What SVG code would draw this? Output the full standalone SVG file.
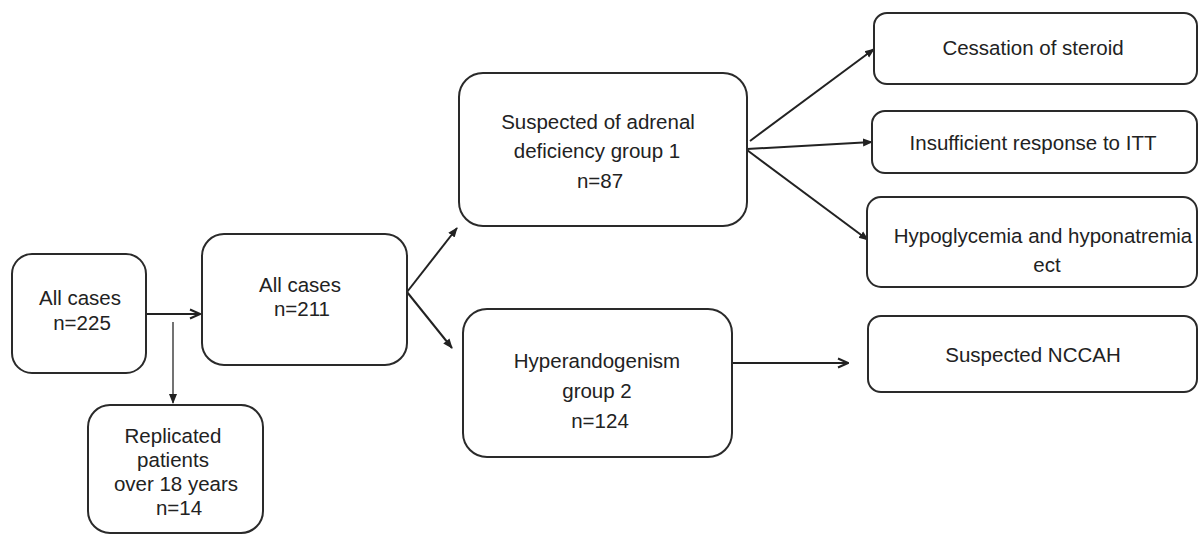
<svg xmlns="http://www.w3.org/2000/svg" width="1199" height="535" viewBox="0 0 1199 535">
<style>
.box{fill:#fff;stroke:#2a2a2a;stroke-width:2}
.t{font-family:"Liberation Sans",Arial,sans-serif;font-size:20.5px;fill:#222;text-anchor:middle}
.c{fill:none;stroke:#222;stroke-width:2}
.cg{fill:none;stroke:#444;stroke-width:1.5}
</style>
<defs>
<marker id="fill" viewBox="0 0 10 10" refX="9" refY="5" markerWidth="10" markerHeight="10" markerUnits="userSpaceOnUse" orient="auto">
<path d="M0,1 L10,5 L0,9 Z" fill="#222"/>
</marker>
<marker id="open" viewBox="0 0 12 12" refX="11" refY="6" markerWidth="12" markerHeight="12" markerUnits="userSpaceOnUse" orient="auto">
<path d="M1,1.5 L11,6 L1,10.5" fill="none" stroke="#222" stroke-width="2"/>
</marker>
</defs>
<g id="connectors">
<line class="c" x1="146" y1="314" x2="200" y2="314" marker-end="url(#open)"/>
<line class="cg" x1="173" y1="322" x2="173" y2="403" marker-end="url(#fill)"/>
<line class="c" x1="407" y1="292" x2="457" y2="228" marker-end="url(#fill)"/>
<line class="c" x1="407" y1="292" x2="452" y2="348" marker-end="url(#fill)"/>
<line class="c" x1="750" y1="141" x2="874" y2="49" marker-end="url(#fill)"/>
<line class="c" x1="747" y1="149" x2="872" y2="142" marker-end="url(#fill)"/>
<line class="c" x1="747" y1="150" x2="868" y2="240" marker-end="url(#fill)"/>
<line class="c" x1="732" y1="363" x2="848" y2="363" marker-end="url(#open)"/>
</g>
<g id="n225">
<rect class="box" x="12" y="254" width="134" height="119" rx="20"/>
<text class="t" x="80" y="305">All cases</text>
<text class="t" x="82" y="330">n=225</text>
</g>
<g id="n211">
<rect class="box" x="202" y="234" width="205" height="131" rx="22"/>
<text class="t" x="300" y="292">All cases</text>
<text class="t" x="302" y="316">n=211</text>
</g>
<g id="replicated">
<rect class="box" x="88" y="405" width="175" height="128" rx="22"/>
<text class="t" x="173" y="443">Replicated</text>
<text class="t" x="173" y="467">patients</text>
<text class="t" x="176" y="491">over 18 years</text>
<text class="t" x="179" y="515">n=14</text>
</g>
<g id="group1">
<rect class="box" x="459" y="73" width="288" height="153" rx="24"/>
<text class="t" x="598" y="129">Suspected of adrenal</text>
<text class="t" x="597" y="158">deficiency group 1</text>
<text class="t" x="600" y="188">n=87</text>
</g>
<g id="group2">
<rect class="box" x="463" y="309" width="269" height="148" rx="24"/>
<text class="t" x="597" y="368">Hyperandogenism</text>
<text class="t" x="597" y="398">group 2</text>
<text class="t" x="600" y="428">n=124</text>
</g>
<g id="cessation">
<rect class="box" x="874" y="13" width="323" height="71" rx="13"/>
<text class="t" x="1033" y="55">Cessation of steroid</text>
</g>
<g id="itt">
<rect class="box" x="872" y="111" width="325" height="62" rx="13"/>
<text class="t" x="1033" y="150">Insufficient response to ITT</text>
</g>
<g id="hypo">
<rect class="box" x="867" y="197" width="330" height="90" rx="14"/>
<text class="t" x="1043" y="243">Hypoglycemia and hyponatremia</text>
<text class="t" x="1047" y="272">ect</text>
</g>
<g id="nccah">
<rect class="box" x="868" y="316" width="329" height="76" rx="13"/>
<text class="t" x="1033" y="362">Suspected NCCAH</text>
</g>
</svg>
